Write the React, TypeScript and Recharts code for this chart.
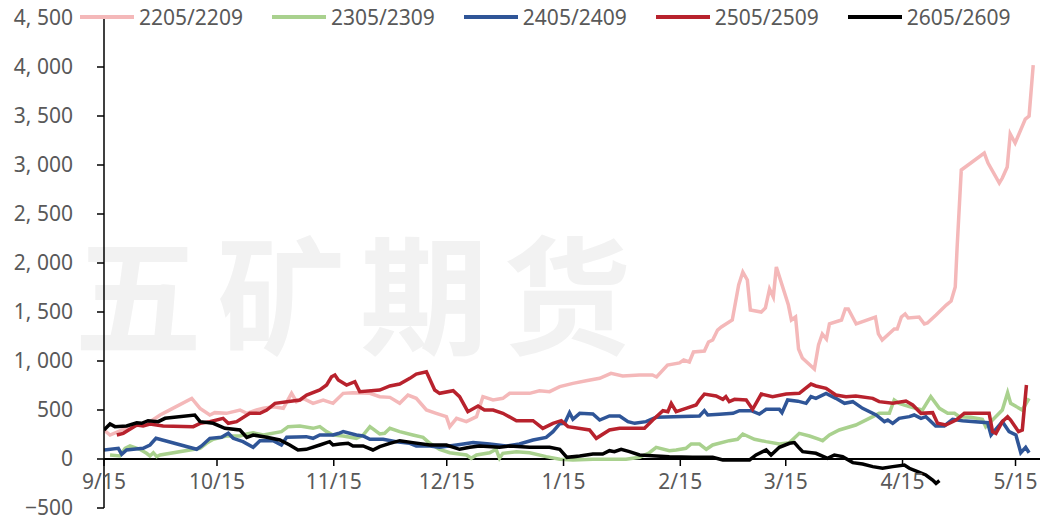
import { Legend, Line, LineChart, ReferenceLine, XAxis, YAxis } from "recharts";

const W = 1045;
const H = 517;
const MARGIN = { top: 18, right: 5, bottom: 8, left: 0 };
const PLOT_H = H - MARGIN.top - MARGIN.bottom - 1;

const Y_MIN = -500;
const Y_MAX = 4500;
const Y_TICKS = [-500, 0, 500, 1000, 1500, 2000, 2500, 3000, 3500, 4000, 4500];

// days counted from 9/15
const X_TICKS = [0, 30, 61, 91, 122, 153, 181, 212, 242];
const X_LABELS = ["9/15", "10/15", "11/15", "12/15", "1/15", "2/15", "3/15", "4/15", "5/15"];

// [day, spread]
const S2205: [number, number][] = [
  [0, 296], [1.6, 245], [5, 300], [8, 340], [11, 350], [14.9, 449], [16.6, 483], [23.3, 619],
  [25.5, 517], [28.1, 449], [29.4, 473], [32.5, 466], [36.1, 500], [37.9, 466], [40.5, 500],
  [42.3, 517], [45, 534], [47.6, 517], [49.8, 670], [51.1, 585], [52.9, 619], [55.5, 568],
  [58.2, 602], [60.8, 568], [63.5, 670], [66.1, 676], [70.6, 670], [73.2, 636], [75.9, 629],
  [78.5, 568], [80.7, 653], [82.9, 619], [85.6, 500], [88.2, 466], [90.9, 432], [91.8, 330],
  [93.6, 415], [96.2, 381], [98.9, 432], [100.6, 636], [103.3, 602], [105.9, 619], [107.7, 670],
  [113, 670], [115.6, 697], [118.3, 687], [121, 738], [124.5, 772], [128, 799], [131.6, 823],
  [134.6, 874], [137.7, 847], [142.2, 857], [145.6, 857], [146.7, 837], [149.6, 959],
  [152.8, 980], [153.9, 1010], [155.4, 990], [156.5, 1092], [159.4, 1102], [160.5, 1194],
  [161.6, 1214], [162.9, 1316], [163.9, 1347], [166.8, 1418], [168.5, 1776], [169.6, 1908],
  [170.8, 1827], [171.6, 1520], [174.5, 1500], [175.6, 1541], [176.7, 1735], [177.7, 1653],
  [178.5, 1959], [181.7, 1571], [182.5, 1418], [183.6, 1449], [184.4, 1122], [185.4, 1031],
  [188.6, 918], [189.7, 1163], [190.7, 1276], [191.8, 1224], [192.6, 1378], [195.8, 1418],
  [196.8, 1531], [197.6, 1531], [199.7, 1378], [204.8, 1449], [205.6, 1276], [206.6, 1214],
  [209.8, 1327], [210.6, 1327], [211.7, 1449], [212.7, 1480], [213.5, 1439], [216.4, 1449],
  [217.8, 1378], [218.6, 1388], [220.9, 1469], [223.6, 1571], [224.9, 1612], [226, 1755],
  [226.5, 2163], [227.6, 2949], [233.7, 3122], [234.7, 3020], [237.7, 2816], [238.5, 2867],
  [239.8, 2980], [240.6, 3316], [241.9, 3224], [244.6, 3469], [245.6, 3500], [246.7, 4020],
];

const S2305: [number, number][] = [
  [1.6, 41], [4.2, 31], [5.6, 109], [6.9, 133], [9.5, 99], [11.3, 58], [12.2, 31], [13.1, 64],
  [14, 24], [14.9, 41], [25.5, 109], [27.2, 160], [29, 201], [32.5, 235], [36.1, 235],
  [37.9, 255], [39.6, 268], [42.3, 245], [47.1, 279], [48.9, 330], [52, 337], [55.5, 313],
  [57.3, 330], [59.1, 279], [60.8, 245], [63.5, 235], [67, 211], [68.8, 245], [70.6, 330],
  [73.2, 255], [74.5, 262], [75.9, 313], [78.5, 279], [82, 245], [84.7, 221], [86.5, 160],
  [89.1, 99], [91.8, 64], [96.2, 41], [97.5, 7], [98.9, 41], [102.4, 64], [104.1, 99], [105, 7],
  [105.9, 58], [109.5, 75], [113, 64], [117.4, 24], [121, -3], [124.5, -10], [129.8, -3],
  [138.6, -3], [142.2, 17], [144.8, 64], [146.6, 119], [150.1, 85], [151.9, 92], [154.5, 109],
  [155.9, 153], [158.1, 153], [159.9, 99], [161.6, 143], [166, 187], [168.2, 201], [169.6, 255],
  [172.7, 201], [175.8, 177], [179.3, 153], [182, 167], [184.6, 262], [187.3, 235], [189.9, 201],
  [190.8, 187], [192.6, 245], [195.2, 296], [199.6, 347], [204.1, 432], [205.8, 466],
  [208.5, 466], [209.8, 602], [211.1, 568], [213.8, 534], [215.5, 517], [217.3, 500],
  [219.5, 636], [221.8, 517], [224, 466], [225.8, 466], [227.1, 432], [230.1, 425], [233.2, 405],
  [234.1, 330], [235.9, 398], [238.5, 500], [239.9, 676], [240.7, 568], [243.8, 500], [245.6, 619],
];

const S2405: [number, number][] = [
  [0, 92], [3.8, 109], [4.7, 48], [6, 92], [7.8, 99], [10.4, 109], [12.2, 143], [13.8, 211],
  [24.6, 99], [25.9, 133], [28.1, 211], [31.2, 221], [33, 262], [34.3, 211], [36.9, 177],
  [39.6, 119], [41.4, 187], [44.9, 187], [47.1, 143], [48.5, 221], [53.7, 228], [55.5, 211],
  [57.3, 245], [60.8, 245], [62.2, 260], [63.5, 279], [67, 245], [68.8, 235], [70.6, 201],
  [74.1, 201], [77.6, 177], [81.2, 160], [82.9, 133], [86.5, 133], [89.1, 119], [93.6, 143],
  [98, 167], [102.4, 153], [106.8, 133], [110.3, 153], [113.9, 194], [117.4, 221], [119.2, 279],
  [121, 360], [122.3, 364], [123.6, 473], [124.5, 405], [126.3, 466], [129.8, 459], [131.6, 398],
  [134.2, 439], [136.9, 439], [139.1, 381], [140.9, 364], [143.9, 381], [146.6, 425],
  [158.1, 439], [159.4, 493], [160.3, 449], [163.4, 456], [167, 466], [168.7, 493], [171.8, 493],
  [174, 459], [175.8, 507], [179.3, 507], [180, 473], [181.5, 602], [184.2, 590], [186.4, 568],
  [187.7, 636], [189, 619], [191.7, 670], [194.3, 619], [196.6, 568], [198.8, 585], [201.4, 517],
  [205, 449], [207.2, 381], [208.1, 398], [209.4, 364], [211.1, 415], [213.8, 432], [215.1, 449],
  [216.9, 415], [218.2, 432], [220.8, 337], [223.1, 337], [225.3, 405], [227.9, 391],
  [234.6, 370], [235.5, 245], [236.6, 296], [238.5, 381], [240.3, 279], [242.1, 245],
  [243.4, 64], [244.7, 119], [245.6, 64],
];

const S2505: [number, number][] = [
  [3.4, 245], [5.1, 262], [8.7, 347], [10.4, 337], [12.2, 357], [15.7, 337], [23.7, 330],
  [25.5, 364], [28.1, 381], [31.6, 415], [33, 364], [35.2, 381], [38.7, 466], [41.4, 466],
  [43.2, 500], [45.4, 568], [52, 602], [53.8, 653], [57.3, 704], [59.1, 755], [60.4, 839],
  [61.3, 857], [62.2, 806], [64.4, 755], [66.6, 789], [67.9, 687], [73.2, 704], [75.9, 745],
  [78.5, 765], [81.2, 823], [82.9, 867], [85.6, 891], [87.8, 704], [89.1, 670], [92.7, 697],
  [94.4, 636], [96.6, 483], [99.3, 541], [101, 500], [103.3, 500], [105.9, 466], [109.5, 391],
  [113.9, 391], [116.5, 313], [119.2, 364], [121.4, 391], [123.2, 330], [128.9, 296],
  [130.7, 211], [134.2, 296], [136.9, 313], [143.5, 313], [145.7, 398], [148.4, 493],
  [149.7, 483], [150.6, 568], [151.9, 483], [154.5, 517], [157.2, 551], [158.1, 602],
  [159.4, 663], [162.5, 643], [164.3, 609], [165.1, 636], [166, 585], [167.4, 609], [170.5, 602],
  [172.2, 507], [174.5, 663], [177.5, 636], [181.1, 663], [184.6, 670], [185.9, 711],
  [187.7, 765], [189, 745], [191.7, 721], [194.3, 653], [197, 636], [199.6, 643], [204.1, 619],
  [205.8, 585], [209.4, 568], [212.9, 592], [214.7, 551], [216.9, 466], [220, 473], [221.3, 364],
  [223.5, 347], [226.2, 398], [228.4, 466], [235, 466], [235.9, 279], [236.8, 262], [238.5, 381],
  [239.9, 432], [240.7, 398], [242.8, 279], [243.8, 296], [244.9, 755],
];

const S2605: [number, number][] = [
  [0, 296], [1.6, 357], [2.9, 330], [6, 337], [8.7, 370], [10, 364], [11.7, 391], [14.4, 381],
  [16.2, 415], [24.1, 449], [25.5, 381], [29, 364], [32.1, 313], [36.1, 296], [37.9, 221],
  [39.6, 245], [43.2, 221], [46.7, 194], [49.3, 143], [51.5, 92], [53.7, 99], [57.3, 143],
  [59.9, 177], [60.8, 143], [62.6, 153], [64.8, 160], [66.1, 133], [68.8, 133], [71.4, 92],
  [73.2, 126], [75.9, 160], [78.5, 187], [82, 167], [86.5, 143], [90.9, 143], [94.4, 99],
  [97.1, 119], [99.7, 133], [105, 119], [107.7, 133], [113, 119], [118.3, 119], [121, 99],
  [122.9, 17], [126.3, 31], [129.8, 51], [132.4, 51], [134.2, 85], [135.5, 75], [137.3, 99],
  [139.5, 75], [142.2, 41], [146.6, 31], [150.1, 24], [156.3, 17], [161.6, 17], [164.3, -10],
  [168.7, -10], [171.4, -10], [173.1, 41], [175.8, 92], [177.1, 41], [179.3, 119], [182, 160],
  [183.3, 167], [184.4, 119], [185.5, 75], [189, 58], [192.1, 7], [193.9, 41], [196.1, 24],
  [198.8, -37], [201.4, -51], [204.1, -78], [206.7, -95], [209.4, -78], [212.5, -61],
  [213.8, -95], [216, -129], [218.2, -163], [220, -214], [220.9, -248], [221.8, -221],
];

const SERIES = [
  { name: "2205/2209", color: "#f4b8b9", points: S2205 },
  { name: "2305/2309", color: "#a9d18e", points: S2305 },
  { name: "2405/2409", color: "#2f5597", points: S2405 },
  { name: "2505/2509", color: "#b8222d", points: S2505 },
  { name: "2605/2609", color: "#000000", points: S2605 },
];

const TEXT = "#595959";
const FONT = "'Noto Sans', 'Noto Sans CJK SC', sans-serif";

function fmtY(v: number): string {
  if (v < 0) return "\u2212" + fmtY(-v);
  if (v >= 1000) return `${Math.floor(v / 1000)}, ${String(v % 1000).padStart(3, "0")}`;
  return String(v);
}

function XTick(props: any) {
  const { x, y, payload } = props;
  // x axis sits on the zero line, not at the bottom of the plot
  const zeroY = y - (PLOT_H * (0 - Y_MIN)) / (Y_MAX - Y_MIN);
  const i = X_TICKS.indexOf(payload.value);
  return (
    <g>
      <line x1={x} x2={x} y1={zeroY} y2={zeroY + 7} stroke="#000" strokeWidth={1.5} />
      <text x={x} y={zeroY + 30} textAnchor="middle" fill={TEXT} fontSize={21} fontFamily={FONT}>
        {X_LABELS[i]}
      </text>
    </g>
  );
}

function LegendBox() {
  return (
    <div style={{ display: "flex", alignItems: "center", fontFamily: FONT, fontSize: 21, color: TEXT }}>
      {SERIES.map((s) => (
        <div key={s.name} style={{ display: "flex", alignItems: "center", marginRight: 29 }}>
          <span style={{ display: "inline-block", width: 54, height: 4, background: s.color, marginRight: 5 }} />
          <span>{s.name}</span>
        </div>
      ))}
    </div>
  );
}

export default function App() {
  return (
    <div style={{ position: "absolute", left: 0, top: 0, width: W, height: H, background: "#fff" }}>
      <div
        style={{
          position: "absolute",
          left: 74,
          top: 226,
          fontFamily: "'Noto Sans CJK SC', sans-serif",
          fontWeight: 700,
          fontSize: 128,
          letterSpacing: 15,
          color: "#f2f2f2",
          whiteSpace: "nowrap",
          lineHeight: 1,
        }}
      >
        五矿期货
      </div>
      <div style={{ position: "absolute", left: 0, top: 0 }}>
        <LineChart width={W} height={H} margin={MARGIN} style={{ fontFamily: FONT }}>
          <XAxis
            type="number"
            dataKey="d"
            domain={[0, 248.5]}
            ticks={X_TICKS}
            allowDataOverflow
            axisLine={false}
            tickLine={false}
            tickSize={0}
            tickMargin={0}
            height={1}
            interval={0}
            tick={<XTick />}
          />
          <YAxis
            type="number"
            domain={[Y_MIN, Y_MAX]}
            ticks={Y_TICKS}
            allowDataOverflow
            width={104}
            interval={0}
            axisLine={{ stroke: "#000", strokeWidth: 1.5 }}
            tickLine={{ stroke: "#000", strokeWidth: 1.5 }}
            tickSize={7}
            tickMargin={24}
            tickFormatter={fmtY}
            tick={{ fill: TEXT, fontSize: 21, fontFamily: FONT }}
          />
          <ReferenceLine y={0} stroke="#000" strokeWidth={1.8} />
          <Legend
            verticalAlign="middle"
            align="center"
            wrapperStyle={{ top: 3, left: 80, width: "auto" }}
            content={<LegendBox />}
          />
          {SERIES.map((s) => (
            <Line
              key={s.name}
              data={s.points.map(([d, v]) => ({ d, v }))}
              dataKey="v"
              name={s.name}
              type="linear"
              stroke={s.color}
              strokeWidth={3.5}
              dot={false}
              activeDot={false}
              isAnimationActive={false}
            />
          ))}
        </LineChart>
      </div>
    </div>
  );
}
